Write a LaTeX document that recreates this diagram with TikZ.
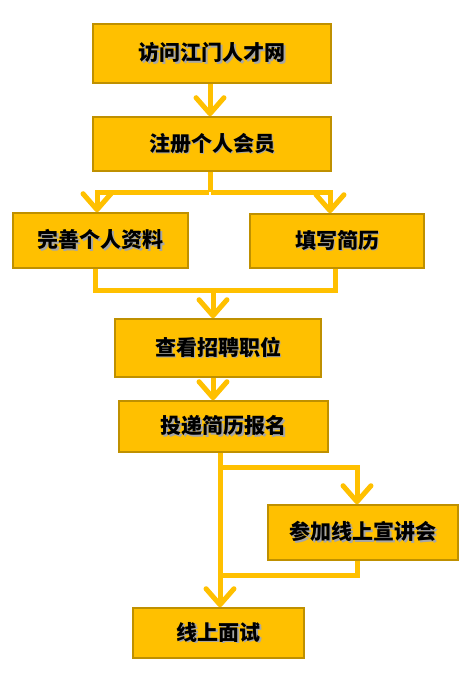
\documentclass[tikz,border=0pt]{standalone}
\usepackage{fontspec}
\setmainfont{Noto Sans CJK SC}
\usetikzlibrary{arrows.meta,calc}
\definecolor{gold}{RGB}{255,192,0}
\definecolor{boxborder}{RGB}{191,144,0}
\newcommand{\shtxt}[1]{\makebox[0pt][l]{\hspace{1.6pt}\raisebox{-1.6pt}{\textcolor{black!35}{#1}}}#1}
\begin{document}
\begin{tikzpicture}[x=1pt,y=-1pt,
  box/.style={draw=boxborder, line width=1.6pt, fill=gold, inner sep=0pt,
    font=\fontsize{21}{25}\selectfont\bfseries},
  conn/.style={draw=gold, line width=5pt},
  arr/.style={conn, -{Straight Barb[length=16pt,width=28pt,round]}}]
\useasboundingbox (0,0) rectangle (471,678);
\node[box, minimum width=238, minimum height=59] (b1) at (212,53.5) {\shtxt{访问江门人才网}};
\node[box, minimum width=238, minimum height=54] (b2) at (212,144) {\raisebox{-2pt}{\shtxt{注册个人会员}}};
\node[box, minimum width=175, minimum height=55] (b3) at (100.5,240.5) {\shtxt{完善个人资料}};
\node[box, minimum width=174, minimum height=54] (b4) at (337,241) {\shtxt{填写简历}};
\node[box, minimum width=206, minimum height=58] (b5) at (218,348) {\shtxt{查看招聘职位}};
\node[box, minimum width=209, minimum height=51] (b6) at (223.5,426.5) {\shtxt{投递简历报名}};
\node[box, minimum width=190, minimum height=55] (b7) at (363,532.5) {\shtxt{参加线上宣讲会}};
\node[box, minimum width=171, minimum height=50] (b8) at (218.5,633) {\shtxt{线上面试}};
% connectors
\coordinate (j1) at (210,192);
\coordinate (j2) at (213,290);
\coordinate (j3) at (220,467);
\coordinate (j4) at (220,575);
\draw[arr] ([xshift=-2]b1.south) -- ([xshift=-2]b2.north);
\draw[conn] (b2.south -| j1) -- (j1);
\draw[arr] ([xshift=-1]j1) -| ([xshift=-3.5]b3.north);
\draw[arr] ([xshift=1]j1) -| ([xshift=-7]b4.north);
\draw[conn] ([xshift=-5.5]b3.south) |- (j2) -| ([xshift=-2]b4.south);
\draw[arr] (j2) -- (j2 |- b5.north);
\draw[arr] ([xshift=-5]b5.south) -- ([xshift=-10.5]b6.north);
\draw[arr] (b6.south -| j3) -- (j3 |- b8.north);
\draw[arr] (j3) -| ([xshift=-6]b7.north);
\draw[conn] ([xshift=-6]b7.south) |- (j4);
\end{tikzpicture}
\end{document}
